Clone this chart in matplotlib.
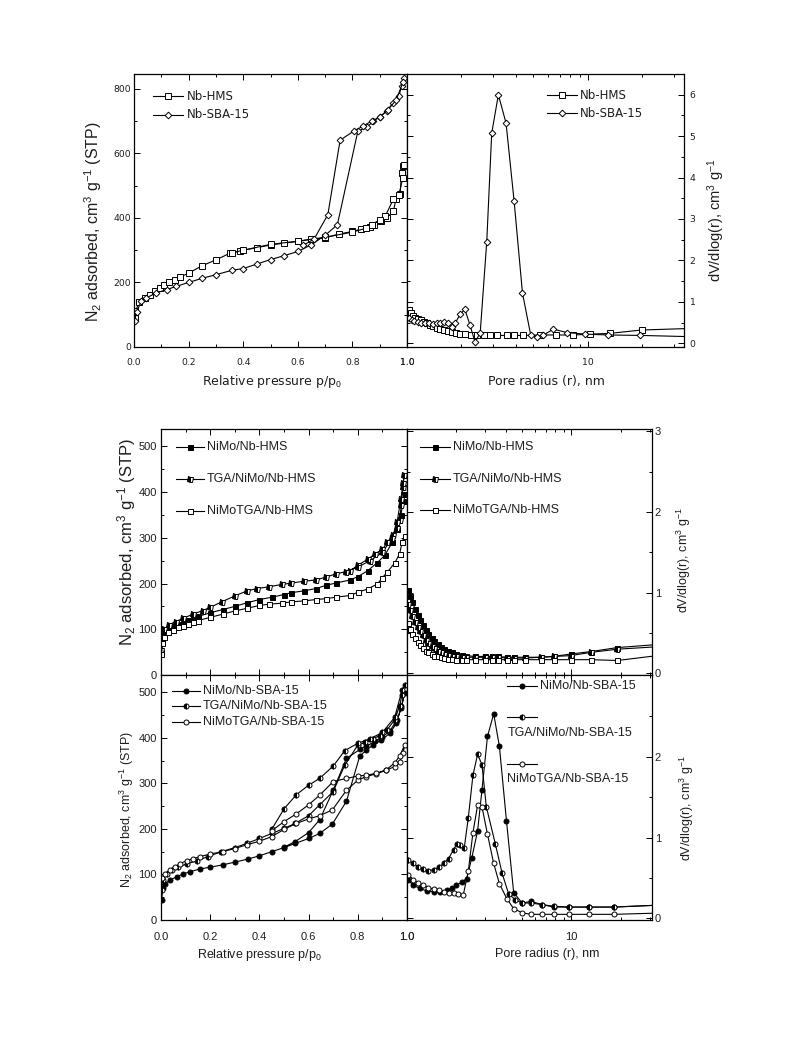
import matplotlib
matplotlib.use("Agg")
import matplotlib.pyplot as plt
from matplotlib.ticker import MultipleLocator, FixedLocator, FixedFormatter, NullFormatter

plt.rcParams['mathtext.fontset'] = 'custom'
plt.rcParams['mathtext.rm'] = 'Liberation Sans'
plt.rcParams['mathtext.it'] = 'Liberation Sans:italic'

TXT = '#1e1e1e'

# ---------------- Data: top panels (Nb supports) ----------------
hms_ads_p = [0.002, 0.005, 0.02, 0.04, 0.057, 0.076, 0.094, 0.11, 0.13, 0.15, 0.17, 0.2, 0.25, 0.3, 0.35,
             0.39, 0.45, 0.5, 0.55, 0.6, 0.65, 0.7, 0.75, 0.8, 0.83, 0.865, 0.88, 0.905, 0.925, 0.95, 0.96,
             0.975, 0.98, 0.987, 0.99]
hms_ads_v = [90, 112, 138, 152, 162, 175, 183, 193, 200, 209, 217, 229, 252, 270, 290,
             298, 308, 316, 322, 327, 334, 338, 350, 358, 365, 372, 378, 390, 400, 420, 460,
             475, 540, 560, 565]
hms_des_p = [0.985, 0.97, 0.95, 0.92, 0.9, 0.87, 0.85, 0.8, 0.7, 0.6, 0.5, 0.4, 0.36]
hms_des_v = [525, 470, 458, 405, 395, 378, 368, 356, 340, 328, 318, 300, 292]

sba_ads_p = [0.002, 0.01, 0.027, 0.045, 0.08, 0.12, 0.155, 0.2, 0.25, 0.3, 0.36, 0.4, 0.45, 0.5, 0.55,
             0.6, 0.65, 0.7, 0.745, 0.82, 0.853, 0.877, 0.9, 0.925, 0.95, 0.97, 0.98, 0.99]
sba_ads_v = [80, 110, 142, 152, 167, 178, 188, 200, 213, 224, 238, 243, 257, 271, 283,
             296, 317, 346, 379, 669, 681, 700, 713, 731, 757, 777, 808, 834]
sba_des_p = [0.985, 0.96, 0.93, 0.9, 0.87, 0.84, 0.805, 0.755, 0.71, 0.66, 0.62]
sba_des_v = [820, 765, 735, 712, 700, 685, 669, 641, 410, 335, 315]

hms_r = [1.02, 1.05, 1.08, 1.11, 1.15, 1.19, 1.24, 1.29, 1.34, 1.40, 1.46, 1.53, 1.60, 1.68, 1.77, 1.86,
         1.97, 2.1, 2.25, 2.43, 2.65, 2.88, 3.15, 3.56, 3.9, 4.4, 5.45, 6.7, 8.3, 10.3, 13.3, 19.8, 45]
hms_d = [0.80, 0.74, 0.66, 0.62, 0.58, 0.55, 0.51, 0.48, 0.45, 0.41, 0.38, 0.35, 0.32, 0.29, 0.27, 0.25,
         0.23, 0.22, 0.21, 0.20, 0.19, 0.19, 0.19, 0.19, 0.19, 0.19, 0.2, 0.2, 0.2, 0.22, 0.24, 0.32, 0.37]
sba_r = [1.02, 1.06, 1.10, 1.15, 1.20, 1.26, 1.32, 1.39, 1.46, 1.53, 1.60, 1.68, 1.77, 1.84, 1.97, 2.09,
         2.23, 2.38, 2.54, 2.76, 2.94, 3.2, 3.53, 3.91, 4.35, 4.83, 5.2, 5.68, 6.45, 7.65, 9.67, 13.0, 19.3, 45]
sba_d = [0.60, 0.56, 0.53, 0.51, 0.50, 0.49, 0.48, 0.47, 0.48, 0.50, 0.52, 0.48, 0.40, 0.48, 0.70, 0.82,
         0.44, 0.02, 0.26, 2.45, 5.07, 6.0, 5.31, 3.43, 1.21, 0.2, 0.16, 0.2, 0.34, 0.26, 0.22, 0.2, 0.19, 0.15]

# ---------------- Data: bottom, HMS catalysts ----------------
nh_p = [0.002, 0.006, 0.013, 0.03, 0.05, 0.07, 0.09, 0.11, 0.13, 0.15, 0.2, 0.25, 0.3, 0.35, 0.4, 0.45,
        0.5, 0.53, 0.58, 0.63, 0.67, 0.71, 0.77, 0.8, 0.84, 0.88, 0.91, 0.94, 0.96, 0.975, 0.985, 0.99]
nh_v = [50, 75, 90, 100, 107, 112, 117, 121, 125, 128, 136, 143, 150, 158, 165, 170,
        176, 180, 184, 189, 196, 201, 208, 215, 228, 246, 262, 290, 320, 350, 380, 395]
th_p = [0.002, 0.006, 0.013, 0.033, 0.06, 0.09, 0.13, 0.17, 0.2, 0.247, 0.3, 0.35, 0.39, 0.44, 0.49, 0.53,
        0.58, 0.63, 0.67, 0.71, 0.77, 0.8, 0.84, 0.87, 0.9, 0.92, 0.943, 0.96, 0.97, 0.977, 0.984, 0.988,
        0.985, 0.975, 0.96, 0.94, 0.9, 0.85, 0.8, 0.75]
th_v = [55, 82, 100, 110, 117, 124, 133, 141, 148, 160, 173, 184, 189, 193, 198, 201,
        205, 208, 214, 221, 228, 240, 253, 265, 275, 290, 306, 322, 340, 372, 412, 438,
        420, 385, 335, 300, 268, 250, 236, 226]
oh_p = [0.002, 0.006, 0.013, 0.03, 0.05, 0.07, 0.09, 0.11, 0.13, 0.15, 0.2, 0.25, 0.3, 0.35, 0.4, 0.44,
        0.49, 0.53, 0.58, 0.63, 0.67, 0.71, 0.77, 0.8, 0.84, 0.88, 0.9, 0.92, 0.95, 0.97, 0.98, 0.99]
oh_v = [45, 70, 84, 93, 99, 104, 108, 112, 116, 119, 126, 133, 140, 146, 152, 155,
        157, 160, 162, 165, 167, 170, 174, 181, 188, 199, 213, 225, 245, 265, 290, 305]

bh_r = [1.02, 1.05, 1.08, 1.12, 1.16, 1.2, 1.25, 1.3, 1.35, 1.41, 1.47, 1.54, 1.61, 1.69, 1.78, 1.88,
        2.0, 2.15, 2.3, 2.6, 3.0, 3.3, 3.6, 4.06, 4.5, 5.2, 6.5, 7.8, 9.9, 13.1, 19.1, 40]
nh_d = [1.04, 0.96, 0.88, 0.8, 0.73, 0.66, 0.6, 0.54, 0.49, 0.44, 0.4, 0.36, 0.33, 0.3, 0.28, 0.26,
        0.24, 0.23, 0.22, 0.21, 0.21, 0.21, 0.21, 0.2, 0.2, 0.2, 0.2, 0.21, 0.24, 0.27, 0.32, 0.37]
th_d = [0.86, 0.78, 0.71, 0.64, 0.58, 0.52, 0.47, 0.42, 0.38, 0.34, 0.31, 0.28, 0.26, 0.24, 0.23, 0.22,
        0.21, 0.2, 0.2, 0.2, 0.2, 0.2, 0.2, 0.19, 0.19, 0.19, 0.2, 0.21, 0.22, 0.26, 0.3, 0.34]
oh_d = [0.62, 0.55, 0.49, 0.44, 0.39, 0.35, 0.31, 0.28, 0.26, 0.24, 0.22, 0.21, 0.2, 0.19, 0.18, 0.18,
        0.17, 0.17, 0.17, 0.17, 0.17, 0.17, 0.17, 0.17, 0.17, 0.17, 0.17, 0.17, 0.17, 0.17, 0.16, 0.24]

# ---------------- Data: bottom, SBA-15 catalysts ----------------
ns_p = [0.003, 0.007, 0.016, 0.037, 0.064, 0.09, 0.118, 0.158, 0.2, 0.25, 0.3, 0.355, 0.4, 0.45, 0.5,
        0.545, 0.6, 0.645, 0.697, 0.754, 0.808, 0.835, 0.862, 0.896, 0.93, 0.957, 0.977, 0.99,
        0.977, 0.96, 0.93, 0.9, 0.87, 0.835, 0.81, 0.754, 0.7, 0.645, 0.6, 0.545, 0.5]
ns_v = [44, 70, 80, 88, 95, 101, 106, 112, 116, 121, 127, 134, 141, 150, 159,
        168, 179, 190, 211, 261, 360, 373, 384, 395, 410, 432, 469, 498,
        465, 440, 415, 402, 392, 382, 375, 355, 285, 220, 192, 172, 160]
ts_p = [0.003, 0.01, 0.023, 0.043, 0.07, 0.104, 0.145, 0.19, 0.245, 0.3, 0.348, 0.4, 0.45, 0.5, 0.545,
        0.6, 0.645, 0.7, 0.747, 0.8, 0.83, 0.86, 0.89, 0.92, 0.95, 0.97, 0.98, 0.99,
        0.98, 0.95, 0.9, 0.85, 0.8, 0.747, 0.7, 0.645, 0.6, 0.55, 0.5, 0.45]
ts_v = [66, 88, 102, 110, 116, 123, 130, 139, 150, 159, 168, 179, 190, 201, 212,
        229, 253, 282, 340, 384, 390, 398, 405, 418, 440, 470, 495, 515,
        505, 445, 412, 398, 388, 372, 338, 311, 296, 275, 244, 199]
os_p = [0.003, 0.016, 0.037, 0.057, 0.077, 0.104, 0.131, 0.158, 0.2, 0.25, 0.3, 0.348, 0.4, 0.45, 0.5,
        0.55, 0.6, 0.645, 0.697, 0.754, 0.8, 0.835, 0.875, 0.916, 0.95, 0.97, 0.984, 0.99,
        0.97, 0.95, 0.916, 0.875, 0.835, 0.8, 0.754, 0.7, 0.645, 0.6, 0.55, 0.5, 0.45]
os_v = [92, 102, 110, 117, 124, 130, 135, 139, 145, 150, 157, 165, 173, 183, 199,
        212, 222, 229, 242, 285, 307, 315, 321, 329, 337, 348, 366, 384,
        360, 345, 330, 322, 318, 316, 311, 304, 274, 253, 233, 216, 196]

ns_r = [1.02, 1.09, 1.2, 1.32, 1.45, 1.59, 1.75, 1.87, 2.0, 2.16, 2.31, 2.48, 2.69, 2.86, 3.09, 3.37,
        3.65, 4.03, 4.46, 5.02, 5.68, 6.65, 7.82, 9.67, 12.8, 18.2, 40]
ns_d = [0.47, 0.41, 0.37, 0.34, 0.33, 0.33, 0.35, 0.37, 0.41, 0.45, 0.49, 0.75, 1.08, 1.59, 2.25, 2.53,
        2.13, 1.21, 0.32, 0.19, 0.21, 0.17, 0.14, 0.14, 0.14, 0.14, 0.17]
ts_r = [1.02, 1.09, 1.17, 1.26, 1.35, 1.45, 1.56, 1.67, 1.79, 1.92, 2.01, 2.1, 2.23, 2.36, 2.52, 2.69,
        2.86, 3.04, 3.45, 3.79, 4.16, 4.57, 5.02, 5.68, 6.65, 7.82, 9.67, 12.8, 18.2, 40]
ts_d = [0.72, 0.68, 0.64, 0.61, 0.59, 0.60, 0.63, 0.68, 0.74, 0.85, 0.92, 0.91, 0.87, 1.24, 1.77, 2.03,
        1.90, 1.38, 0.92, 0.56, 0.30, 0.23, 0.19, 0.19, 0.17, 0.15, 0.14, 0.14, 0.14, 0.17]
os_r = [1.02, 1.09, 1.17, 1.26, 1.35, 1.45, 1.56, 1.67, 1.79, 1.92, 2.05, 2.2, 2.36, 2.52, 2.69, 2.86,
        3.09, 3.37, 3.65, 4.06, 4.46, 5.02, 5.68, 6.65, 7.82, 9.67, 12.8, 18.2, 40]
os_d = [0.54, 0.48, 0.44, 0.41, 0.38, 0.36, 0.35, 0.33, 0.31, 0.32, 0.30, 0.29, 0.58, 1.06, 1.40, 1.38,
        1.04, 0.68, 0.43, 0.24, 0.12, 0.07, 0.05, 0.05, 0.05, 0.05, 0.05, 0.05, 0.07]

# ---------------- Figure ----------------
W, H = 793, 1057
fig = plt.figure(figsize=(W / 100, H / 100), dpi=100)


def px_axes(x0, y0, x1, y1):
    return fig.add_axes([x0 / W, 1 - y1 / H, (x1 - x0) / W, (y1 - y0) / H])


def style(ax, fs, family, pad_x, pad_y, right=False):
    ax.tick_params(which='both', direction='in', top=True, bottom=True, left=True, right=True,
                   colors='black', labelcolor=TXT, labelsize=fs, width=0.7)
    ax.tick_params(which='major', length=4)
    ax.tick_params(which='minor', length=2)
    ax.tick_params(axis='x', pad=pad_x)
    ax.tick_params(axis='y', pad=pad_y)
    if right:
        ax.yaxis.tick_right()
        ax.tick_params(which='both', left=True, right=True)
    for s in ax.spines.values():
        s.set_linewidth(0.9)
    for lab in ax.get_xticklabels() + ax.get_yticklabels():
        lab.set_family(family)


def logx(ax, xmax, labels=True):
    ax.set_xscale('log')
    ax.set_xlim(1, xmax)
    ax.xaxis.set_major_locator(FixedLocator([1, 10]))
    ax.xaxis.set_major_formatter(FixedFormatter(['1.0', '10']) if labels else NullFormatter())
    ax.xaxis.set_minor_locator(FixedLocator([2, 3, 4, 5, 6, 7, 8, 9, 20, 30]))
    ax.xaxis.set_minor_formatter(NullFormatter())


LW = 0.8


def plot_series(ax, x, y, marker, fill, ms):
    kw = dict(color='black', lw=LW, marker=marker, ms=ms, mec='black', mew=0.7)
    if fill == 'open':
        kw.update(mfc='white')
    elif fill == 'full':
        kw.update(mfc='black')
    else:
        kw.update(mfc='black', fillstyle='left', markerfacecoloralt='white')
    ax.plot(x, y, **kw)
    return kw


def legend_item(ax, x0, x1, y, kw, text, tx=None, ty=None, fs=8, family='Liberation Sans'):
    ax.plot([x0, x1], [y, y], transform=ax.transAxes, color='black', lw=LW, clip_on=False)
    mk = dict(kw)
    mk.pop('lw', None)
    mk.pop('color', None)
    ax.plot([(x0 + x1) / 2], [y], transform=ax.transAxes, ls='none', clip_on=False, **mk)
    if tx is None:
        tx, ty = x1 + 0.012, y
    ax.text(tx, ty, text, transform=ax.transAxes, ha='left', va='center', fontsize=fs,
            family=family, color=TXT)


TOPF = 'DejaVu Sans'
BOTF = 'Liberation Sans'

# ---- Top-left: isotherms of supports ----
ax1 = px_axes(134, 74, 407, 347)
k_sq = plot_series(ax1, hms_ads_p, hms_ads_v, 's', 'open', 4.2)
plot_series(ax1, hms_des_p, hms_des_v, 's', 'open', 4.2)
k_di = plot_series(ax1, sba_ads_p, sba_ads_v, 'D', 'open', 3.4)
plot_series(ax1, sba_des_p, sba_des_v, 'D', 'open', 3.4)
ax1.set_xlim(0, 1)
ax1.set_ylim(0, 846)
ax1.xaxis.set_major_locator(MultipleLocator(0.2))
ax1.xaxis.set_minor_locator(MultipleLocator(0.1))
ax1.yaxis.set_major_locator(MultipleLocator(200))
ax1.yaxis.set_minor_locator(MultipleLocator(100))
ax1.xaxis.set_major_formatter(plt.FuncFormatter(lambda v, p: f'{v:.1f}'))
style(ax1, 6.7, TOPF, 8, 2)
legend_item(ax1, 0.07, 0.18, 0.919, k_sq, 'Nb-HMS', fs=8.5, family=TOPF)
legend_item(ax1, 0.07, 0.18, 0.850, k_di, 'Nb-SBA-15', fs=8.5, family=TOPF)

# ---- Top-right: PSD of supports ----
ax2 = px_axes(407, 74, 684, 347)
plot_series(ax2, hms_r, hms_d, 's', 'open', 4.2)
plot_series(ax2, sba_r, sba_d, 'D', 'open', 3.4)
logx(ax2, 34)
ax2.set_ylim(-0.09, 6.5)
ax2.yaxis.set_major_locator(MultipleLocator(1))
ax2.yaxis.set_minor_locator(MultipleLocator(0.5))
style(ax2, 6.7, TOPF, 8, 4, right=True)
legend_item(ax2, 0.504, 0.613, 0.923, k_sq, 'Nb-HMS', fs=8.5, family=TOPF)
legend_item(ax2, 0.504, 0.613, 0.856, k_di, 'Nb-SBA-15', fs=8.5, family=TOPF)

fig.text(93 / W, 1 - 222 / H, r'N$_2$ adsorbed, cm$^3$ g$^{-1}$ (STP)', rotation=90, ha='center',
         va='center', fontsize=11.5, family=BOTF, color=TXT)
fig.text(272 / W, 1 - 382 / H, r'Relative pressure p/p$_0$', ha='center', va='center', fontsize=9,
         family=TOPF, color=TXT)
fig.text(546 / W, 1 - 382 / H, 'Pore radius (r), nm', ha='center', va='center', fontsize=9,
         family=TOPF, color=TXT)
fig.text(716 / W, 1 - 220 / H, r'dV/dlog(r), cm$^3$ g$^{-1}$', rotation=90, ha='center', va='center',
         fontsize=10.5, family=BOTF, color=TXT)

# ---- Bottom upper-left: HMS catalysts isotherms ----
ax3 = px_axes(161, 429, 407, 675)
k_nh = plot_series(ax3, nh_p, nh_v, 's', 'full', 3.6)
k_th = plot_series(ax3, th_p, th_v, 's', 'half', 3.6)
k_oh = plot_series(ax3, oh_p, oh_v, 's', 'open', 3.6)
ax3.set_xlim(0, 1)
ax3.set_ylim(0, 538)
ax3.xaxis.set_major_locator(MultipleLocator(0.2))
ax3.xaxis.set_minor_locator(MultipleLocator(0.1))
ax3.xaxis.set_major_formatter(NullFormatter())
ax3.yaxis.set_major_locator(MultipleLocator(100))
ax3.yaxis.set_minor_locator(MultipleLocator(50))
style(ax3, 8, BOTF, 8, 3)
legend_item(ax3, 0.061, 0.175, 0.928, k_nh, 'NiMo/Nb-HMS', fs=9)
legend_item(ax3, 0.061, 0.175, 0.796, k_th, 'TGA/NiMo/Nb-HMS', fs=9)
legend_item(ax3, 0.061, 0.175, 0.668, k_oh, 'NiMoTGA/Nb-HMS', fs=9)

# ---- Bottom upper-right: HMS catalysts PSD ----
ax4 = px_axes(407, 429, 652, 675)
plot_series(ax4, bh_r, nh_d, 's', 'full', 3.6)
plot_series(ax4, bh_r, th_d, 's', 'half', 3.6)
plot_series(ax4, bh_r, oh_d, 's', 'open', 3.6)
logx(ax4, 31, labels=False)
ax4.set_ylim(-0.02, 3.03)
ax4.yaxis.set_major_locator(FixedLocator([0, 1, 2, 3]))
ax4.yaxis.set_minor_locator(FixedLocator([0.5, 1.5, 2.5]))
style(ax4, 8, BOTF, 8, 2, right=True)
legend_item(ax4, 0.053, 0.176, 0.926, k_nh, 'NiMo/Nb-HMS', fs=9)
legend_item(ax4, 0.053, 0.176, 0.796, k_th, 'TGA/NiMo/Nb-HMS', fs=9)
legend_item(ax4, 0.053, 0.176, 0.671, k_oh, 'NiMoTGA/Nb-HMS', fs=9)

# ---- Bottom lower-left: SBA catalysts isotherms ----
ax5 = px_axes(161, 675, 407, 920)
k_ns = plot_series(ax5, ns_p, ns_v, 'o', 'full', 3.6)
k_ts = plot_series(ax5, ts_p, ts_v, 'o', 'half', 3.6)
k_os = plot_series(ax5, os_p, os_v, 'o', 'open', 3.6)
ax5.set_xlim(0, 1)
ax5.set_ylim(0, 538)
ax5.xaxis.set_major_locator(MultipleLocator(0.2))
ax5.xaxis.set_minor_locator(MultipleLocator(0.1))
ax5.xaxis.set_major_formatter(plt.FuncFormatter(lambda v, p: f'{v:.1f}'))
ax5.yaxis.set_major_locator(MultipleLocator(100))
ax5.yaxis.set_minor_locator(MultipleLocator(50))
style(ax5, 8, BOTF, 9, 3)
legend_item(ax5, 0.043, 0.159, 0.936, k_ns, 'NiMo/Nb-SBA-15', fs=9)
legend_item(ax5, 0.043, 0.159, 0.873, k_ts, 'TGA/NiMo/Nb-SBA-15', fs=9)
legend_item(ax5, 0.043, 0.159, 0.809, k_os, 'NiMoTGA/Nb-SBA-15', fs=9)

# ---- Bottom lower-right: SBA catalysts PSD ----
ax6 = px_axes(407, 675, 652, 920)
plot_series(ax6, ns_r, ns_d, 'o', 'full', 3.6)
plot_series(ax6, ts_r, ts_d, 'o', 'half', 3.6)
plot_series(ax6, os_r, os_d, 'o', 'open', 3.6)
logx(ax6, 31)
ax6.set_ylim(-0.02, 3.01)
ax6.yaxis.set_major_locator(FixedLocator([0, 1, 2]))
ax6.yaxis.set_minor_locator(FixedLocator([0.5, 1.5, 2.5]))
style(ax6, 8, BOTF, 9, 2, right=True)
legend_item(ax6, 0.409, 0.529, 0.955, k_ns, 'NiMo/Nb-SBA-15', fs=9)
legend_item(ax6, 0.409, 0.529, 0.830, k_ts, 'TGA/NiMo/Nb-SBA-15', tx=0.409, ty=0.764, fs=9)
legend_item(ax6, 0.409, 0.529, 0.637, k_os, 'NiMoTGA/Nb-SBA-15', tx=0.409, ty=0.574, fs=9)

fig.text(127 / W, 1 - 542 / H, r'N$_2$ adsorbed, cm$^3$ g$^{-1}$ (STP)', rotation=90, ha='center',
         va='center', fontsize=12, family=BOTF, color=TXT)
fig.text(127 / W, 1 - 809 / H, r'N$_2$ adsorbed, cm$^3$ g$^{-1}$ (STP)', rotation=90, ha='center',
         va='center', fontsize=9, family=BOTF, color=TXT)
fig.text(684 / W, 1 - 560 / H, r'dV/dlog(r), cm$^3$ g$^{-1}$', rotation=90, ha='center', va='center',
         fontsize=9, family=BOTF, color=TXT)
fig.text(687 / W, 1 - 808 / H, r'dV/dlog(r), cm$^3$ g$^{-1}$', rotation=90, ha='center', va='center',
         fontsize=9, family=BOTF, color=TXT)
fig.text(259 / W, 1 - 955 / H, r'Relative pressure p/p$_0$', ha='center', va='center', fontsize=9,
         family=BOTF, color=TXT)
fig.text(547 / W, 1 - 954 / H, 'Pore radius (r), nm', ha='center', va='center', fontsize=9,
         family=BOTF, color=TXT)

fig.savefig('out.png', dpi=100)
